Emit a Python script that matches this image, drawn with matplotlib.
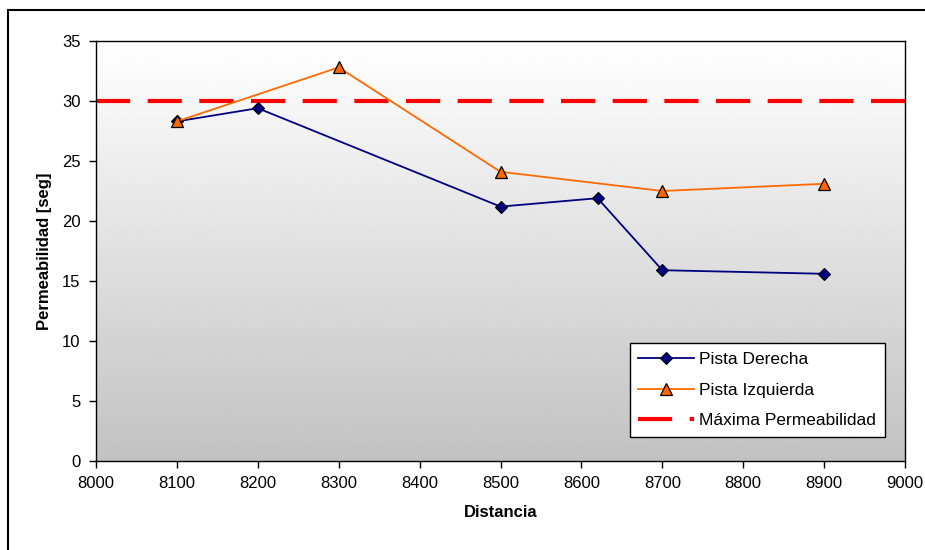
import numpy as np
import matplotlib.pyplot as plt
from matplotlib.patches import Rectangle

plt.rcParams['font.family'] = ['Liberation Sans', 'DejaVu Sans']

# Distancia vs permeabilidad por pista
dist_der = [8100, 8200, 8500, 8620, 8700, 8900]
perm_der = [28.3, 29.4, 21.2, 21.9, 15.9, 15.6]

dist_izq = [8100, 8300, 8500, 8700, 8900]
perm_izq = [28.3, 32.8, 24.1, 22.5, 23.1]

perm_max = 30

fig = plt.figure(figsize=(9.25, 5.5), dpi=100)
ax = fig.add_axes([96 / 925, 1 - 461 / 550, (905 - 96) / 925, (461 - 41) / 550])

# fondo degradado blanco -> gris
grad = np.linspace(1.0, 0.76, 256).reshape(-1, 1)
ax.imshow(grad, cmap='gray', vmin=0, vmax=1, aspect='auto',
          extent=[8000, 9000, 0, 35], zorder=0, origin='upper')

ax.plot(dist_der, perm_der, color='#000080', lw=1.3, marker='D', ms=6,
        mfc='#000080', mec='black', mew=0.8, label='Pista Derecha', zorder=3)
ax.plot(dist_izq, perm_izq, color='#ff6a00', lw=1.3, marker='^', ms=8,
        mfc='#ff6600', mec='black', mew=0.9, label='Pista Izquierda', zorder=3)
ax.axhline(perm_max, color='#ff0000', lw=3, dashes=(8.2, 4.2),
           label='Máxima Permeabilidad', zorder=2)

ax.set_xlim(8000, 9000)
ax.set_ylim(0, 35)
ax.set_xticks(np.arange(8000, 9001, 100))
ax.set_yticks(np.arange(0, 36, 5))
ax.tick_params(direction='out', length=5, width=1, labelsize=12, pad=6)
for s in ax.spines.values():
    s.set_color('black')
    s.set_linewidth(1)

ax.set_xlabel('Distancia', fontsize=12, fontweight='bold', labelpad=10)
ax.set_ylabel('Permeabilidad [seg]', fontsize=12, fontweight='bold', labelpad=7)

leg = ax.legend(loc='lower right', bbox_to_anchor=(0.975, 0.057), fontsize=12.5,
                frameon=True, fancybox=False, edgecolor='black',
                borderpad=0.5, handlelength=3.2, labelspacing=0.9,
                handletextpad=0.3, borderaxespad=0)
leg.get_frame().set_linewidth(1)
leg.get_frame().set_facecolor('white')
leg.get_frame().set_alpha(1)

# marco exterior del gráfico
fig.patches.append(Rectangle((8 / 925, -0.05), 1.2, 1.05 - 10 / 550,
                             transform=fig.transFigure, fill=False,
                             edgecolor='black', lw=1.5))

fig.savefig('out.png', dpi=100)
